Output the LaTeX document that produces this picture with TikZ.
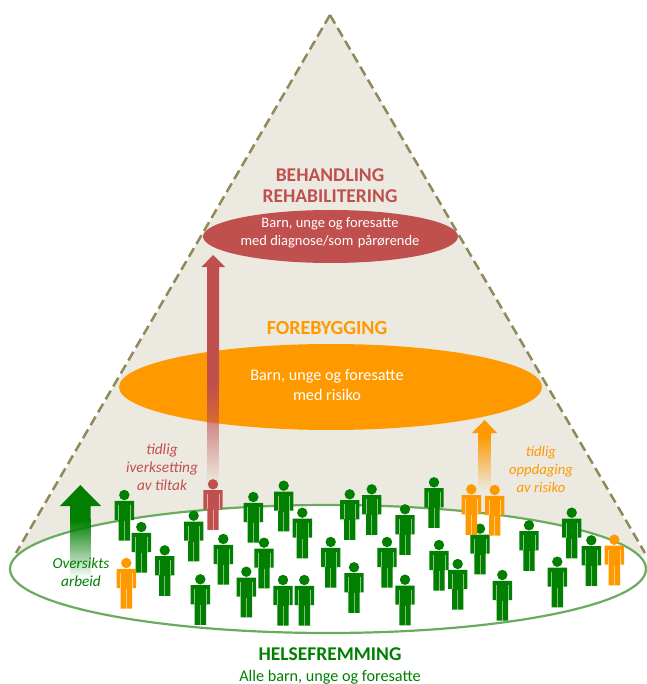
\documentclass[tikz,border=0pt]{standalone}
\usepackage{fontspec}
\usetikzlibrary{fadings}
\setmainfont{Carlito}
\definecolor{conefill}{HTML}{ECEAE0}
\definecolor{conedash}{HTML}{8E8A5A}
\definecolor{redc}{HTML}{C0504D}
\definecolor{orangec}{HTML}{FF9900}
\definecolor{greenc}{HTML}{007F00}
\definecolor{ringc}{HTML}{6AAB5F}
\tikzfading[name=fadedown, top color=transparent!0, bottom color=transparent!100]
\tikzset{
  headtext/.style={font=\fontsize{19.5}{19.5}\selectfont\bfseries, inner sep=0pt},
  widehead/.style={font=\fontsize{20}{20}\selectfont\bfseries, inner sep=0pt},
  bodytext/.style={font=\fontsize{16.2}{16.2}\selectfont, inner sep=0pt},
  smalltext/.style={font=\fontsize{14.5}{14.5}\selectfont, inner sep=0pt},
  sidetext/.style={font=\fontsize{15.3}{15.3}\selectfont\itshape, inner sep=0pt},
  sidesmall/.style={font=\fontsize{14.7}{14.7}\selectfont\itshape, inner sep=0pt},
  conedge/.style={conedash,line width=2.5pt,dash pattern=on 10pt off 5pt},
}
\newcommand{\figperson}[3]{%
  \begin{scope}[shift={(#1,#2)}]
    \fill[#3] (0,0) circle (5.2);
    \fill[#3] (-9.7,5.8) -- (9.7,5.8) -- (9.7,25) -- (5.7,25) -- (5.7,45.6) -- (-5.7,45.6) -- (-5.7,25) -- (-9.7,25) -- cycle;
    \draw[white,opacity=.55,line width=.6] (-5.9,10) -- (-5.9,25) (5.9,10) -- (5.9,25);
    \draw[white,opacity=.5,line width=.7] (0,26) -- (0,45.6);
  \end{scope}}
\begin{document}
\begin{tikzpicture}[x=1pt,y=-1pt]
\useasboundingbox (0,0) rectangle (646,684);
% cone
\fill[conefill] (330,15) -- (16,555) -- (645,555) -- cycle;
\draw[conedge] (330,15) -- (16,553);
\draw[conedge] (330,15) -- (645,553);
% base
\draw[ringc,fill=white,line width=2.2pt] (328,569) ellipse (318 and 64);
% levels
\fill[orangec] (330.5,387) ellipse (211.5 and 43);
\fill[redc] (330.5,236.5) ellipse (127.5 and 26.5);
% green arrow
\fill[greenc] (80.3,485) -- (101,506) -- (90.7,506) -- (90.7,520) -- (70,520) -- (70,506) -- (60,506) -- cycle;
\fill[greenc,path fading=fadedown] (70,519.5) rectangle (90.7,578);
% red arrow
\fill[redc] (213,255) -- (225,267) -- (219.2,267) -- (219.2,385) -- (207.2,385) -- (207.2,267) -- (201.5,267) -- cycle;
\fill[redc,path fading=fadedown] (207.2,384.5) rectangle (219.2,484);
% orange arrow
\fill[orangec] (484.7,420) -- (497,433) -- (491,433) -- (491,436) -- (478.3,436) -- (478.3,433) -- (472,433) -- cycle;
\fill[orangec,path fading=fadedown] (478.3,435.5) rectangle (491,490);
% people
\foreach \px/\py in {124.3/495,141.3/527,164.7/550.3,193.7/515.7,223.3/539,200.3/579.3,253.3/497,283.7/485.7,302.3/512.7,264/542.7,246.3/571.7,283/580,304.3/580,349.7/494.3,371.7/489.3,405/509.3,434/482.3,330.7/542,354/567.3,387/542,405/579.7,439/545,457.7/564,480/528.7,502.3/575,529/525.3,571.7/512.7,557.3/561.7,591.3/540.3}
  {\figperson{\px}{\py}{greenc}}
\figperson{213}{484.3}{redc}
\foreach \px/\py in {471.3/489.3,494.7/490,614.3/539.7,126.3/563}
  {\figperson{\px}{\py}{orangec}}
\begin{scope}[text=redc]
\node[headtext] (behandling) at (330,175) {BEHANDLING};
\node[headtext] (rehab) at (330,196) {REHABILITERING};
\node[sidetext] (iverk1) at (162,450) {tidlig};
\node[sidetext] (iverk2) at (162,468) {iverksetting};
\node[sidetext] (iverk3) at (162,485) {av tiltak};
\end{scope}
\node[smalltext,text=white] (redtext1) at (330,224) {Barn, unge og foresatte};
\node[smalltext,text=white] (redtext2) at (330,242) {med diagnose/som\hspace{4.5pt}pårørende};
\node[widehead,text=orangec] (forebygging) at (327,328) {FOREBYGGING};
\node[bodytext,text=white] (ortext1) at (327,376) {Barn, unge og foresatte};
\node[bodytext,text=white] (ortext2) at (327,395) {med risiko};
\begin{scope}[text=orangec]
\node[sidesmall] (opp1) at (541,453) {tidlig};
\node[sidesmall] (opp2) at (541,471) {oppdaging};
\node[sidesmall] (opp3) at (541,487) {av risiko};
\end{scope}
\node[sidetext,text=greenc] (over1) at (81,563) {Oversikts};
\node[sidetext,text=greenc] (over2) at (81,581) {arbeid};
\node[headtext,text=greenc] (helse) at (330,654) {HELSEFREMMING};
\node[bodytext,text=greenc] (alle) at (330,677) {Alle barn, unge og foresatte};
\end{tikzpicture}
\end{document}
